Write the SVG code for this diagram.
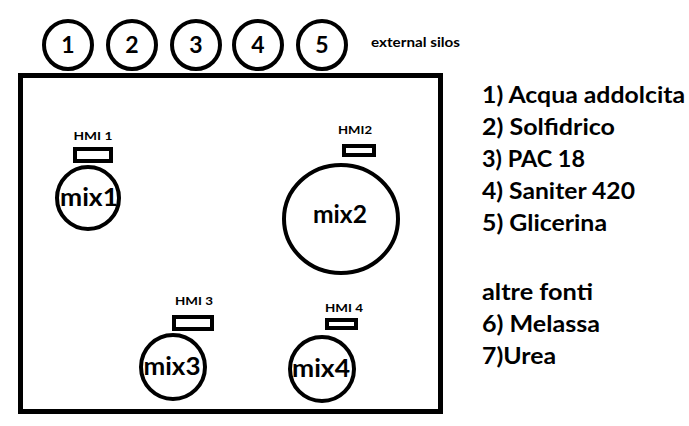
<svg xmlns="http://www.w3.org/2000/svg" width="689" height="426" viewBox="0 0 689 426">
<style>
.s{fill:none;stroke:#000;stroke-width:4}
.t{font-family:Lato,"Open Sans",sans-serif;font-weight:bold;fill:#000}
.n{font-size:23px;text-anchor:middle}
.h{font-size:12px;text-anchor:middle}
.m{font-size:25px;text-anchor:middle}
.l{font-size:23px}
</style>
<rect width="689" height="426" fill="#fff"/>
<g id="plant"><rect x="20.5" y="75.5" width="420" height="336" fill="none" stroke="#000" stroke-width="5"/></g>
<g id="silo1"><circle class="s" cx="68" cy="45" r="24"/><text class="t n" x="68" y="53">1</text></g>
<g id="silo2"><circle class="s" cx="132" cy="45" r="24"/><text class="t n" x="132" y="53">2</text></g>
<g id="silo3"><circle class="s" cx="196" cy="45" r="24"/><text class="t n" x="196" y="53">3</text></g>
<g id="silo4"><circle class="s" cx="258" cy="45" r="24"/><text class="t n" x="258" y="53">4</text></g>
<g id="silo5"><circle class="s" cx="322" cy="45" r="24"/><text class="t n" x="322" y="53">5</text></g>
<text class="t" x="371" y="47" font-size="14" textLength="89" lengthAdjust="spacingAndGlyphs">external silos</text>
<g id="hmi1"><text class="t h" x="93" y="140" textLength="39" lengthAdjust="spacingAndGlyphs">HMI 1</text><rect class="s" x="75" y="149" width="36" height="12"/></g>
<g id="mix1"><circle class="s" cx="88" cy="198" r="31"/><text class="t m" x="89" y="206" textLength="58" lengthAdjust="spacingAndGlyphs">mix1</text></g>
<g id="hmi2"><text class="t h" x="355" y="134" textLength="34" lengthAdjust="spacingAndGlyphs">HMI2</text><rect class="s" x="344" y="146" width="30" height="9"/></g>
<g id="mix2"><ellipse class="s" cx="341" cy="219" rx="57" ry="54"/><text class="t m" x="340" y="223" textLength="54" lengthAdjust="spacingAndGlyphs">mix2</text></g>
<g id="hmi3"><text class="t h" x="194" y="305" textLength="38" lengthAdjust="spacingAndGlyphs">HMI 3</text><rect class="s" x="174" y="317" width="38" height="12"/></g>
<g id="mix3"><circle class="s" cx="173" cy="367" r="32"/><text class="t m" x="172" y="375" textLength="57" lengthAdjust="spacingAndGlyphs">mix3</text></g>
<g id="hmi4"><text class="t h" x="344" y="312" textLength="38" lengthAdjust="spacingAndGlyphs">HMI 4</text><rect class="s" x="327" y="320" width="29" height="8"/></g>
<g id="mix4"><circle class="s" cx="322" cy="369" r="32"/><text class="t m" x="321" y="377" textLength="58" lengthAdjust="spacingAndGlyphs">mix4</text></g>
<g id="legend">
<text class="t l" x="482" y="103" textLength="203" lengthAdjust="spacingAndGlyphs">1) Acqua addolcita</text>
<text class="t l" x="482" y="135" textLength="133" lengthAdjust="spacingAndGlyphs">2) Solfidrico</text>
<text class="t l" x="482" y="167" textLength="103" lengthAdjust="spacingAndGlyphs">3) PAC 18</text>
<text class="t l" x="482" y="199" textLength="153" lengthAdjust="spacingAndGlyphs">4) Saniter 420</text>
<text class="t l" x="482" y="231" textLength="125" lengthAdjust="spacingAndGlyphs">5) Glicerina</text>
<text class="t l" x="482" y="300" textLength="111" lengthAdjust="spacingAndGlyphs">altre fonti</text>
<text class="t l" x="482" y="332" textLength="118" lengthAdjust="spacingAndGlyphs">6) Melassa</text>
<text class="t l" x="482" y="364" textLength="74" lengthAdjust="spacingAndGlyphs">7)Urea</text>
</g>
<g id="connectors"/>
</svg>
